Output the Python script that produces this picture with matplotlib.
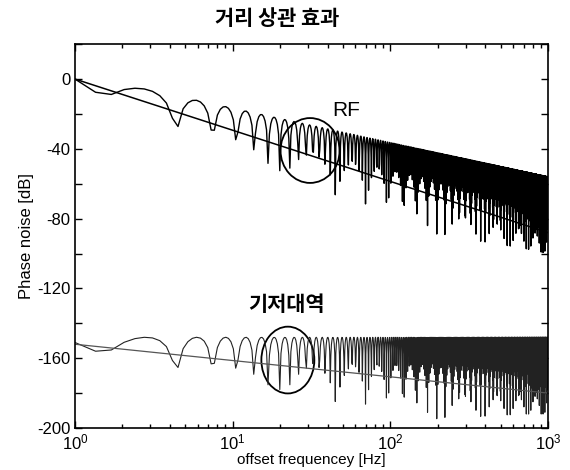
import matplotlib
matplotlib.use('Agg')
import matplotlib.pyplot as plt
import numpy as np
from matplotlib.patches import Ellipse
from matplotlib.ticker import FixedLocator, FuncFormatter, LogLocator

plt.rcParams['font.family'] = ['Liberation Sans', 'Noto Sans CJK KR', 'DejaVu Sans']

# values
null_first_hz = 1.258      # first ripple null
null_period_hz = 3.107     # spacing between ripple nulls
sample_step_hz = 0.35      # spacing of the plotted samples
f_start, f_stop = 1, 1000

rf_top_f = [1, 1000]       # top of the RF ripple
rf_top_db = [3, -56]
rf_line_f = [1, 1000]      # RF reference line
rf_line_db = [0, -88]

bb_top_f = [1, 1000]       # top of the baseband ripple
bb_top_db = [-148, -148]
bb_line_f = [1, 1000]      # baseband reference line
bb_line_db = [-152, -180]

# deepest the dips reach, in dB below the top of the ripple
dip_f = [1, 1.35, 4.3, 7.4, 20, 65, 170, 700, 1000]
dip_db = [-3, -8, -20, -25, -30, -40, -47, -44, -44]

y_ticks = list(range(-200, 21, 20))
y_labels = [-200, -160, -120, -80, -40, 0]


def on_log(f, xs, ys):
    return np.interp(np.log10(f), np.log10(xs), ys)


f = np.arange(f_start, f_stop + 1e-9, sample_step_hz)
ripple = 20 * np.log10(np.abs(np.sin(np.pi * (f - null_first_hz) / null_period_hz)) + 1e-12)
ripple = np.maximum(ripple, on_log(f, dip_f, dip_db))

rf = on_log(f, rf_top_f, rf_top_db) + ripple
bb = on_log(f, bb_top_f, bb_top_db) + ripple

fig = plt.figure(figsize=(5.7, 4.7), dpi=100)
ax = fig.add_axes([0.1316, 0.0894, 0.8298, 0.8166])

ax.semilogx(f, rf, color='black', lw=1.0)
ax.semilogx(rf_line_f, rf_line_db, color='black', lw=1.1)
ax.semilogx(f, bb, color='#222222', lw=0.8)
ax.semilogx(bb_line_f, bb_line_db, color='#555555', lw=0.9)

ax.set_xlim(1, 1000)
ax.set_ylim(-200, 20)
ax.yaxis.set_major_locator(FixedLocator(y_ticks))
ax.yaxis.set_major_formatter(FuncFormatter(lambda v, p: '%d' % v if int(round(v)) in y_labels else ''))
ax.xaxis.set_major_locator(LogLocator(base=10, numticks=10))
ax.xaxis.set_minor_locator(LogLocator(base=10, subs=np.arange(2, 10), numticks=10))
ax.tick_params(which='both', direction='in', top=True, right=True, labelsize=12, width=1)
ax.tick_params(which='major', length=5)
ax.tick_params(which='minor', length=3)
for s in ax.spines.values():
    s.set_linewidth(1.2)

ax.set_xlabel('offset frequencey [Hz]', fontsize=11, labelpad=0)
ax.set_ylabel('Phase noise [dB]', fontsize=12, labelpad=2)

# circles and labels
ax.add_patch(Ellipse((0.497, 0.723), 0.125, 0.169, transform=ax.transAxes,
                     fill=False, color='black', lw=1.3))
ax.add_patch(Ellipse((0.450, 0.177), 0.112, 0.174, transform=ax.transAxes,
                     fill=False, color='black', lw=1.3))
ax.text(0.573, 0.826, 'RF', transform=ax.transAxes, fontsize=15,
        ha='center', va='center')
ax.text(0.446, 0.323, '기저대역', transform=ax.transAxes, fontsize=15,
        ha='center', va='center', fontweight='bold', family=['Noto Sans CJK KR'])

fig.text(0.486, 0.96, '거리 상관 효과', fontsize=15, fontweight='bold',
         ha='center', va='center', family=['Noto Sans CJK KR'])

fig.savefig('out.png', dpi=100)
